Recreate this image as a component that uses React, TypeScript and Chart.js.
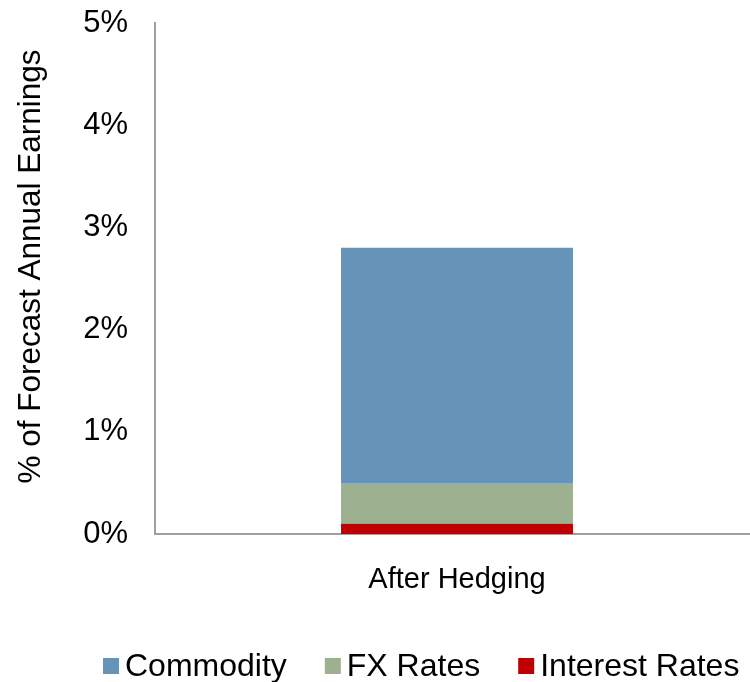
import React, { useEffect, useRef } from "react";
import { Chart, registerables } from "chart.js";

Chart.register(...registerables);

const categories = ["After Hedging"];
const interestRates = [0.1];
const fxRates = [0.4];
const commodity = [2.3];
const yTicks = [0, 1, 2, 3, 4, 5];

const FONT = "'Liberation Sans', Arial, sans-serif";

// Drawing surface runs slightly past the right edge of the visible frame
// so the x axis line reaches the edge.
const CANVAS_W = 760;
const CANVAS_H = 682;

// Nudges the rotated y-axis title upward along the axis.
const yTitleShift = {
  id: "yTitleShift",
  afterLayout(chart: any) {
    const s = chart.scales.y;
    if (!s || s.__shifted) return;
    const orig = s.drawTitle.bind(s);
    s.drawTitle = function () {
      const ctx = chart.ctx;
      ctx.save();
      ctx.translate(0, -12);
      orig();
      ctx.restore();
    };
    s.__shifted = true;
  },
};

// Compact legend row under the axis: square swatch, tight gap, label.
const bottomLegend = {
  id: "bottomLegend",
  afterDraw(chart: any, _args: any, opts: any) {
    const ctx = chart.ctx;
    const items = chart.data.datasets.slice().reverse();
    ctx.save();
    ctx.font = `${opts.fontSize}px ${FONT}`;
    ctx.textBaseline = "middle";
    ctx.textAlign = "left";
    let x = opts.x;
    const y = opts.y;
    const box = opts.box;
    for (const ds of items) {
      ctx.fillStyle = ds.backgroundColor;
      ctx.fillRect(x, y - box / 2, box, box);
      x += box + opts.boxGap;
      ctx.fillStyle = "#000";
      ctx.fillText(ds.label, x, y + 1);
      x += ctx.measureText(ds.label).width + opts.itemGap;
    }
    ctx.restore();
  },
};

export default function App() {
  const ref = useRef<HTMLCanvasElement | null>(null);

  useEffect(() => {
    if (!ref.current) return;
    const chart = new Chart(ref.current, {
      type: "bar",
      data: {
        labels: categories,
        datasets: [
          { label: "Interest Rates", data: interestRates, backgroundColor: "#C00000" },
          { label: "FX Rates", data: fxRates, backgroundColor: "#9DB08F" },
          { label: "Commodity", data: commodity, backgroundColor: "#6594B8" },
        ],
      },
      plugins: [yTitleShift, bottomLegend],
      options: {
        responsive: false,
        animation: false,
        layout: { padding: { top: 23, right: 1, left: 0, bottom: 69 } },
        datasets: { bar: { barPercentage: 0.384, categoryPercentage: 1 } },
        plugins: {
          tooltip: { enabled: false },
          legend: { display: false },
          bottomLegend: { x: 103, y: 666, box: 16, boxGap: 6, itemGap: 38, fontSize: 32 },
        } as any,
        scales: {
          x: {
            stacked: true,
            afterFit: (axis: any) => {
              axis.height = 79;
            },
            grid: { display: false, drawTicks: false },
            border: { color: "#A0A0A0", width: 2 },
            ticks: { color: "#000", font: { family: FONT, size: 29 }, padding: 29 },
          },
          y: {
            stacked: true,
            min: 0,
            max: 5,
            afterBuildTicks: (axis: any) => {
              axis.ticks = yTicks.map((v) => ({ value: v }));
            },
            afterFit: (axis: any) => {
              axis.width = 155;
              axis.paddingTop = 0;
              axis.paddingBottom = 0;
            },
            grid: { display: false, drawOnChartArea: false, drawTicks: true, tickLength: 7, color: "#A0A0A0" },
            border: { color: "#A0A0A0", width: 2 },
            ticks: {
              color: "#000",
              font: { family: FONT, size: 31 },
              padding: 20,
              callback: (v: any) => `${v}%`,
            },
            title: {
              display: true,
              text: "% of Forecast Annual Earnings",
              color: "#000",
              font: { family: FONT, size: 31.5 },
              padding: { top: 12, bottom: 0 },
            },
          },
        },
      },
    });
    return () => chart.destroy();
  }, []);

  return (
    <div
      style={{
        position: "fixed",
        left: 0,
        top: 0,
        width: 750,
        height: 682,
        overflow: "hidden",
        background: "#fff",
      }}
    >
      <canvas ref={ref} width={CANVAS_W} height={CANVAS_H} style={{ display: "block" }} />
    </div>
  );
}
